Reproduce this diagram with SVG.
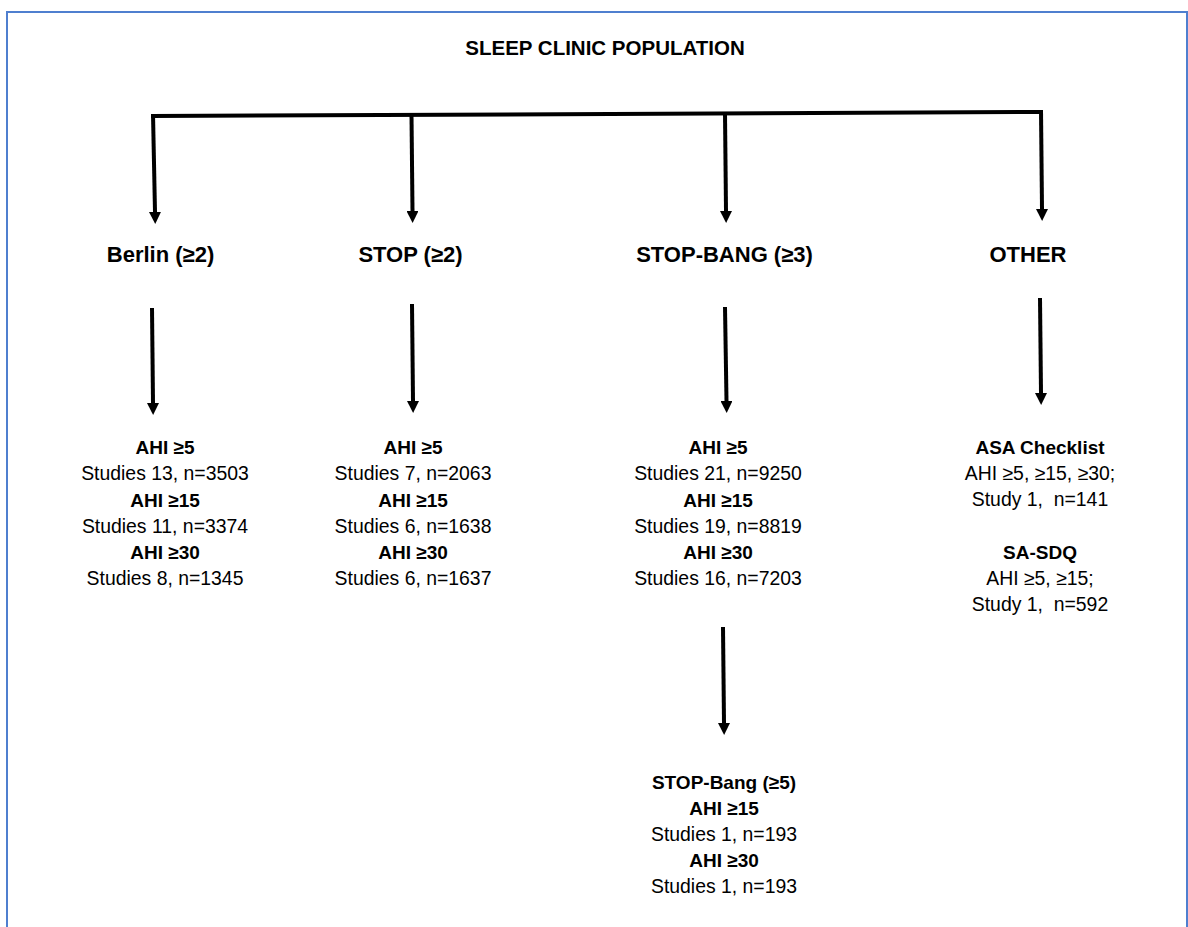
<svg xmlns="http://www.w3.org/2000/svg" width="1188" height="927" viewBox="0 0 1188 927">
  <style>
    .t { font-family: 'Liberation Sans', Arial, sans-serif; fill: #000; text-anchor: middle; }
    .title { font-size: 20.5px; font-weight: bold; }
    .hd { font-size: 22px; font-weight: bold; }
    .b { font-size: 19px; font-weight: bold; }
    .r { font-size: 19.4px; }
    .ln { fill: none; stroke: #000; stroke-width: 4; }
  </style>
  <defs>
    <marker id="ah" markerUnits="userSpaceOnUse" markerWidth="12" markerHeight="12" viewBox="0 0 12 12" refX="0" refY="6" orient="auto">
      <path d="M0,0 L12,6 L0,12 Z" fill="#000"/>
    </marker>
  </defs>

  <rect x="7" y="12" width="1180" height="930" fill="#fff" stroke="#4f7fcf" stroke-width="2"/>

  <g id="connectors">
    <!-- distribution bar from the population to the four questionnaires -->
    <path class="ln" d="M151,116 L1043,112"/>
    <path class="ln" d="M153,114 L155,212" marker-end="url(#ah)"/>
    <path class="ln" d="M411.5,115 L412.5,211" marker-end="url(#ah)"/>
    <path class="ln" d="M725,113.5 L726,211" marker-end="url(#ah)"/>
    <path class="ln" d="M1041,110 L1042,209" marker-end="url(#ah)"/>
    <!-- questionnaire to results -->
    <path class="ln" d="M152,308 L153,403" marker-end="url(#ah)"/>
    <path class="ln" d="M412,304 L413,401" marker-end="url(#ah)"/>
    <path class="ln" d="M725,307 L726.5,401" marker-end="url(#ah)"/>
    <path class="ln" d="M1040,298 L1041,393" marker-end="url(#ah)"/>
    <!-- STOP-BANG to higher cut-off -->
    <path class="ln" d="M723,627 L724,723" marker-end="url(#ah)"/>
  </g>

  <g id="population">
    <text class="t title" x="605" y="55">SLEEP CLINIC POPULATION</text>
  </g>

  <g id="berlin">
    <text class="t hd" x="160.5" y="262">Berlin (≥2)</text>
  </g>
  <g id="stop">
    <text class="t hd" x="410.5" y="262">STOP (≥2)</text>
  </g>
  <g id="stop-bang">
    <text class="t hd" x="724.5" y="262">STOP-BANG (≥3)</text>
  </g>
  <g id="other">
    <text class="t hd" x="1028" y="262">OTHER</text>
  </g>

  <g id="berlin-results">
    <text class="t b" x="165" y="454">AHI ≥5</text>
    <text class="t r" x="165" y="480">Studies 13, n=3503</text>
    <text class="t b" x="165" y="507">AHI ≥15</text>
    <text class="t r" x="165" y="533">Studies 11, n=3374</text>
    <text class="t b" x="165" y="559">AHI ≥30</text>
    <text class="t r" x="165" y="585">Studies 8, n=1345</text>
  </g>

  <g id="stop-results">
    <text class="t b" x="413" y="454">AHI ≥5</text>
    <text class="t r" x="413" y="480">Studies 7, n=2063</text>
    <text class="t b" x="413" y="507">AHI ≥15</text>
    <text class="t r" x="413" y="533">Studies 6, n=1638</text>
    <text class="t b" x="413" y="559">AHI ≥30</text>
    <text class="t r" x="413" y="585">Studies 6, n=1637</text>
  </g>

  <g id="stop-bang-results">
    <text class="t b" x="718" y="454">AHI ≥5</text>
    <text class="t r" x="718" y="480">Studies 21, n=9250</text>
    <text class="t b" x="718" y="507">AHI ≥15</text>
    <text class="t r" x="718" y="533">Studies 19, n=8819</text>
    <text class="t b" x="718" y="559">AHI ≥30</text>
    <text class="t r" x="718" y="585">Studies 16, n=7203</text>
  </g>

  <g id="other-results">
    <text class="t b" x="1040" y="454">ASA Checklist</text>
    <text class="t r" x="1040" y="480">AHI ≥5, ≥15, ≥30;</text>
    <text class="t r" x="1040" y="506" xml:space="preserve">Study 1,  n=141</text>
    <text class="t b" x="1040" y="559">SA-SDQ</text>
    <text class="t r" x="1040" y="585">AHI ≥5, ≥15;</text>
    <text class="t r" x="1040" y="611" xml:space="preserve">Study 1,  n=592</text>
  </g>

  <g id="stop-bang-5-results">
    <text class="t b" x="724" y="789">STOP-Bang (≥5)</text>
    <text class="t b" x="724" y="815">AHI ≥15</text>
    <text class="t r" x="724" y="841">Studies 1, n=193</text>
    <text class="t b" x="724" y="867">AHI ≥30</text>
    <text class="t r" x="724" y="893">Studies 1, n=193</text>
  </g>
</svg>
